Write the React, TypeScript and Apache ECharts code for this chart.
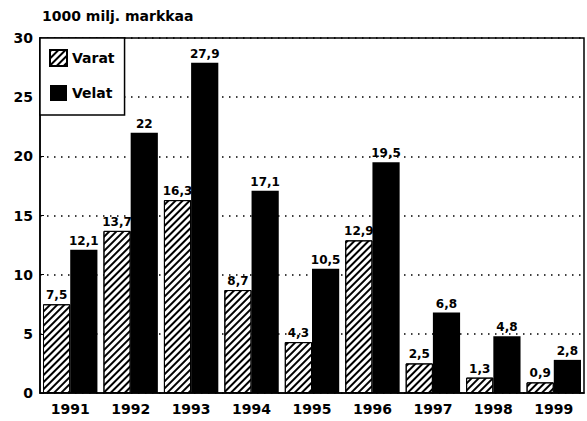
import React, { useEffect, useRef } from "react";
import * as echarts from "echarts";

const years = ["1991", "1992", "1993", "1994", "1995", "1996", "1997", "1998", "1999"];
const varat = [7.5, 13.7, 16.3, 8.7, 4.3, 12.9, 2.5, 1.3, 0.9];
const velat = [12.1, 22, 27.9, 17.1, 10.5, 19.5, 6.8, 4.8, 2.8];
const unitTitle = "1000 milj. markkaa";
const FONT = "DejaVu Sans";

export default function App() {
  const ref = useRef<HTMLDivElement>(null);
  useEffect(() => {
    if (!ref.current) return;
    const chart = echarts.init(ref.current, null, { renderer: "svg" });
    const fmt = (p: any) => String(p.value).replace(".", ",");
    chart.setOption({
      animation: false,
      backgroundColor: "#fff",
      title: {
        text: unitTitle,
        left: 37,
        top: 4,
        textStyle: { fontFamily: FONT, fontWeight: "bold", fontSize: 14, color: "#000" },
      },
      legend: {
        orient: "vertical",
        left: 40,
        top: 38,
        z: 10,
        icon: "rect",
        backgroundColor: "#fff",
        borderColor: "#000",
        borderWidth: 1.5,
        borderRadius: 0,
        padding: [11, 10, 14, 9],
        itemWidth: 17,
        itemHeight: 16,
        itemGap: 18,
        textStyle: { fontFamily: FONT, fontWeight: "bold", fontSize: 14, color: "#000" },
        data: ["Varat", "Velat"],
      },
      grid: {
        left: 40,
        right: 3,
        top: 38,
        bottom: 28,
        show: true,
        borderColor: "#000",
        borderWidth: 1.5,
      },
      xAxis: {
        type: "category",
        data: years,
        axisLine: { lineStyle: { color: "#000", width: 1.5 } },
        axisTick: { show: false },
        axisLabel: { fontFamily: FONT, fontWeight: "bold", fontSize: 14, color: "#000", margin: 9 },
      },
      yAxis: {
        type: "value",
        min: 0,
        max: 30,
        interval: 5,
        axisLine: { show: true, lineStyle: { color: "#000", width: 1.5 } },
        axisTick: { show: true, inside: true, length: 4, lineStyle: { color: "#000" } },
        axisLabel: { fontFamily: FONT, fontWeight: "bold", fontSize: 14, color: "#000", margin: 7 },
        splitLine: { show: true, lineStyle: { color: "#000", width: 1.5, type: [1.5, 5.5] } },
      },
      series: [
        {
          name: "Varat",
          type: "bar",
          data: varat,
          barGap: "0%",
          barCategoryGap: "10%",
          itemStyle: {
            color: "#fff",
            borderColor: "#000",
            borderWidth: 1,
            decal: {
              symbol: "rect",
              symbolSize: 1,
              color: "#000",
              dashArrayX: [1, 0],
              dashArrayY: [2, 3],
              rotation: -Math.PI / 4,
            },
          },
          label: {
            show: true,
            position: "top",
            distance: 3,
            formatter: fmt,
            fontFamily: FONT,
            fontWeight: "bold",
            fontSize: 12,
            color: "#000",
          },
        },
        {
          name: "Velat",
          type: "bar",
          data: velat,
          itemStyle: { color: "#000" },
          label: {
            show: true,
            position: "top",
            distance: 3,
            formatter: fmt,
            fontFamily: FONT,
            fontWeight: "bold",
            fontSize: 12,
            color: "#000",
          },
        },
      ],
    });
    return () => chart.dispose();
  }, []);
  return <div ref={ref} style={{ width: 587, height: 421, position: "absolute", left: 0, top: 0 }} />;
}
